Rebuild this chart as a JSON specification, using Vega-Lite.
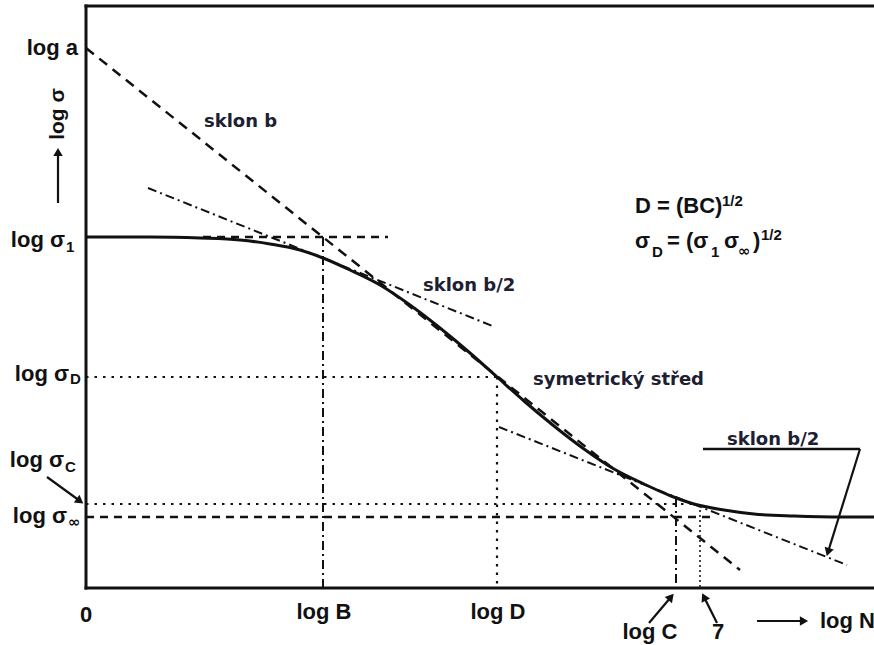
{
  "$schema": "https://vega.github.io/schema/vega-lite/v6.json",
  "width": 874,
  "height": 645,
  "padding": 0,
  "autosize": {"type": "none"},
  "background": "white",
  "config": {"view": {"stroke": null}},
  "datasets": {
    "seg": [
      {"kind": "frame", "x": 0, "y": 0, "x2": 0, "y2": 582},
      {"kind": "frame", "x": 0, "y": 582, "x2": 788, "y2": 582},
      {"kind": "frame", "x": 0, "y": 0, "x2": 788, "y2": 0},
      {"kind": "dashB", "x": 0, "y": 540, "x2": 654, "y2": 18},
      {"kind": "dash1", "x": 117, "y": 351, "x2": 302, "y2": 351},
      {"kind": "dashInf", "x": 0, "y": 71, "x2": 630, "y2": 71},
      {"kind": "dashdot", "x": 62, "y": 400, "x2": 409, "y2": 261},
      {"kind": "dashdot", "x": 413, "y": 161, "x2": 761, "y2": 23},
      {"kind": "dashdotV", "x": 237, "y": 351, "x2": 237, "y2": 0},
      {"kind": "dashdotV", "x": 590, "y": 90, "x2": 590, "y2": 0},
      {"kind": "dot", "x": 0, "y": 211, "x2": 411, "y2": 211},
      {"kind": "dot", "x": 411, "y": 211, "x2": 411, "y2": 0},
      {"kind": "dot", "x": 0, "y": 84, "x2": 608, "y2": 84},
      {"kind": "dot7", "x": 614, "y": 83, "x2": 614, "y2": 0},
      {"kind": "solid", "x": 617, "y": 139, "x2": 774, "y2": 139}
    ],
    "arrows": [
      {"x": 774, "y": 139, "x2": 742, "y2": 36},
      {"x": -39, "y": 111, "x2": -6, "y2": 87},
      {"x": -28, "y": 385, "x2": -28, "y2": 436},
      {"x": 563, "y": -35, "x2": 585, "y2": -9},
      {"x": 631, "y": -35, "x2": 618, "y2": -9},
      {"x": 671, "y": -33, "x2": 718, "y2": -33}
    ],
    "curve": [
      {"x": 0, "y": 351}, {"x": 64, "y": 351}, {"x": 114, "y": 350}, {"x": 154, "y": 348},
      {"x": 184, "y": 344}, {"x": 214, "y": 338}, {"x": 237, "y": 330}, {"x": 264, "y": 318},
      {"x": 294, "y": 303}, {"x": 324, "y": 283}, {"x": 354, "y": 260}, {"x": 384, "y": 235},
      {"x": 411, "y": 211}, {"x": 438, "y": 187}, {"x": 468, "y": 162}, {"x": 498, "y": 139},
      {"x": 528, "y": 119}, {"x": 558, "y": 104}, {"x": 585, "y": 92}, {"x": 608, "y": 84},
      {"x": 638, "y": 78}, {"x": 668, "y": 74}, {"x": 708, "y": 72}, {"x": 758, "y": 71},
      {"x": 788, "y": 71}
    ],
    "labels": [
      {"role": "r", "t": "log a", "x": -8, "y": 533},
      {"role": "r", "t": "log σ", "x": -21, "y": 341},
      {"role": "sub", "t": "1", "x": -20, "y": 336},
      {"role": "r", "t": "log σ", "x": -17, "y": 207},
      {"role": "sub", "t": "D", "x": -16, "y": 204},
      {"role": "r", "t": "log σ", "x": -22, "y": 121},
      {"role": "sub", "t": "C", "x": -21, "y": 116},
      {"role": "r", "t": "log σ", "x": -19, "y": 65},
      {"role": "inf", "t": "∞", "x": -18, "y": 61},
      {"role": "c", "t": "0", "x": 0, "y": -34},
      {"role": "c", "t": "log B", "x": 238, "y": -31},
      {"role": "c", "t": "log D", "x": 412, "y": -31},
      {"role": "c", "t": "log C", "x": 564, "y": -51},
      {"role": "c", "t": "7", "x": 632, "y": -51},
      {"role": "l", "t": "log N", "x": 734, "y": -40},
      {"role": "l", "t": "D = (BC)", "x": 549, "y": 375},
      {"role": "sup", "t": "1/2", "x": 636, "y": 382},
      {"role": "l", "t": "σ", "x": 549, "y": 340},
      {"role": "sub", "t": "D", "x": 566, "y": 331},
      {"role": "l", "t": "= (σ", "x": 581, "y": 340},
      {"role": "sub", "t": "1", "x": 625, "y": 331},
      {"role": "l", "t": "σ", "x": 638, "y": 340},
      {"role": "inf", "t": "∞", "x": 652, "y": 332},
      {"role": "l", "t": ")", "x": 667, "y": 340},
      {"role": "sup", "t": "1/2", "x": 675, "y": 348},
      {"role": "note", "t": "sklon b", "x": 118, "y": 461},
      {"role": "note", "t": "sklon b/2", "x": 337, "y": 297},
      {"role": "note", "t": "symetrický střed", "x": 447, "y": 203},
      {"role": "note", "t": "sklon b/2", "x": 641, "y": 143},
      {"role": "axis", "t": "log σ", "x": -28, "y": 474}
    ]
  },
  "encoding": {
    "x": {"type": "quantitative", "scale": {"domain": [-86, 788], "nice": false, "zero": false}, "axis": null},
    "y": {"type": "quantitative", "scale": {"domain": [-57, 588], "nice": false, "zero": false}, "axis": null}
  },
  "layer": [
    {
      "data": {"name": "seg"},
      "transform": [{"filter": "datum.kind == 'frame'"}],
      "mark": {"type": "rule", "color": "#111", "strokeWidth": 3, "strokeCap": "square"},
      "encoding": {"x": {"field": "x"}, "y": {"field": "y"}, "x2": {"field": "x2"}, "y2": {"field": "y2"}}
    },
    {
      "data": {"name": "seg"},
      "transform": [{"filter": "datum.kind == 'dashB'"}],
      "mark": {"type": "rule", "color": "#111", "strokeWidth": 2.5, "strokeDash": [10, 7]},
      "encoding": {"x": {"field": "x"}, "y": {"field": "y"}, "x2": {"field": "x2"}, "y2": {"field": "y2"}}
    },
    {
      "data": {"name": "seg"},
      "transform": [{"filter": "datum.kind == 'dash1' || datum.kind == 'dashInf'"}],
      "mark": {"type": "rule", "color": "#111", "strokeWidth": 2.5, "strokeDash": [8, 6]},
      "encoding": {"x": {"field": "x"}, "y": {"field": "y"}, "x2": {"field": "x2"}, "y2": {"field": "y2"}}
    },
    {
      "data": {"name": "seg"},
      "transform": [{"filter": "datum.kind == 'dashdot' || datum.kind == 'dashdotV'"}],
      "mark": {"type": "rule", "color": "#111", "strokeWidth": 2, "strokeDash": [9, 4, 2, 4]},
      "encoding": {"x": {"field": "x"}, "y": {"field": "y"}, "x2": {"field": "x2"}, "y2": {"field": "y2"}}
    },
    {
      "data": {"name": "seg"},
      "transform": [{"filter": "datum.kind == 'dot'"}],
      "mark": {"type": "rule", "color": "#111", "strokeWidth": 2.2, "strokeDash": [2.5, 6]},
      "encoding": {"x": {"field": "x"}, "y": {"field": "y"}, "x2": {"field": "x2"}, "y2": {"field": "y2"}}
    },
    {
      "data": {"name": "seg"},
      "transform": [{"filter": "datum.kind == 'dot7'"}],
      "mark": {"type": "rule", "color": "#333", "strokeWidth": 1.8, "strokeDash": [2, 3]},
      "encoding": {"x": {"field": "x"}, "y": {"field": "y"}, "x2": {"field": "x2"}, "y2": {"field": "y2"}}
    },
    {
      "data": {"name": "seg"},
      "transform": [{"filter": "datum.kind == 'solid'"}],
      "mark": {"type": "rule", "color": "#111", "strokeWidth": 2.5},
      "encoding": {"x": {"field": "x"}, "y": {"field": "y"}, "x2": {"field": "x2"}, "y2": {"field": "y2"}}
    },
    {
      "data": {"name": "curve"},
      "mark": {"type": "line", "color": "#111", "strokeWidth": 3, "interpolate": "monotone"},
      "encoding": {"x": {"field": "x"}, "y": {"field": "y"}}
    },
    {
      "data": {"name": "arrows"},
      "mark": {"type": "rule", "color": "#111", "strokeWidth": 2.2},
      "encoding": {"x": {"field": "x"}, "y": {"field": "y"}, "x2": {"field": "x2"}, "y2": {"field": "y2"}}
    },
    {
      "data": {"name": "arrows"},
      "transform": [{"calculate": "atan2(datum.x2 - datum.x, datum.y2 - datum.y) * 180 / PI", "as": "heading"}],
      "mark": {"type": "point", "shape": "triangle-up", "filled": true, "color": "#111", "opacity": 1, "size": 90},
      "encoding": {"x": {"field": "x2"}, "y": {"field": "y2"}, "angle": {"field": "heading", "type": "quantitative", "scale": null}}
    },
    {
      "data": {"name": "labels"},
      "transform": [{"filter": "datum.role == 'r'"}],
      "mark": {"type": "text", "align": "right", "baseline": "alphabetic", "font": "Liberation Sans", "fontWeight": "bold", "fontSize": 22, "color": "#111"},
      "encoding": {"x": {"field": "x"}, "y": {"field": "y"}, "text": {"field": "t"}}
    },
    {
      "data": {"name": "labels"},
      "transform": [{"filter": "datum.role == 'c'"}],
      "mark": {"type": "text", "align": "center", "baseline": "alphabetic", "font": "Liberation Sans", "fontWeight": "bold", "fontSize": 22, "color": "#111"},
      "encoding": {"x": {"field": "x"}, "y": {"field": "y"}, "text": {"field": "t"}}
    },
    {
      "data": {"name": "labels"},
      "transform": [{"filter": "datum.role == 'l'"}],
      "mark": {"type": "text", "align": "left", "baseline": "alphabetic", "font": "Liberation Sans", "fontWeight": "bold", "fontSize": 22, "color": "#111"},
      "encoding": {"x": {"field": "x"}, "y": {"field": "y"}, "text": {"field": "t"}}
    },
    {
      "data": {"name": "labels"},
      "transform": [{"filter": "datum.role == 'sub'"}],
      "mark": {"type": "text", "align": "left", "baseline": "alphabetic", "font": "Liberation Sans", "fontWeight": "bold", "fontSize": 15, "color": "#111"},
      "encoding": {"x": {"field": "x"}, "y": {"field": "y"}, "text": {"field": "t"}}
    },
    {
      "data": {"name": "labels"},
      "transform": [{"filter": "datum.role == 'inf'"}],
      "mark": {"type": "text", "align": "left", "baseline": "alphabetic", "font": "DejaVu Sans", "fontWeight": "bold", "fontSize": 15, "color": "#111"},
      "encoding": {"x": {"field": "x"}, "y": {"field": "y"}, "text": {"field": "t"}}
    },
    {
      "data": {"name": "labels"},
      "transform": [{"filter": "datum.role == 'sup'"}],
      "mark": {"type": "text", "align": "left", "baseline": "alphabetic", "font": "Liberation Sans", "fontWeight": "bold", "fontSize": 15, "color": "#111"},
      "encoding": {"x": {"field": "x"}, "y": {"field": "y"}, "text": {"field": "t"}}
    },
    {
      "data": {"name": "labels"},
      "transform": [{"filter": "datum.role == 'note'"}],
      "mark": {"type": "text", "align": "left", "baseline": "alphabetic", "font": "DejaVu Sans", "fontWeight": "bold", "fontSize": 18, "color": "#1d2030"},
      "encoding": {"x": {"field": "x"}, "y": {"field": "y"}, "text": {"field": "t"}}
    },
    {
      "data": {"name": "labels"},
      "transform": [{"filter": "datum.role == 'axis'"}],
      "mark": {"type": "text", "align": "center", "baseline": "middle", "angle": 270, "font": "Liberation Sans", "fontWeight": "bold", "fontSize": 21, "color": "#111"},
      "encoding": {"x": {"field": "x"}, "y": {"field": "y"}, "text": {"field": "t"}}
    }
  ]
}
